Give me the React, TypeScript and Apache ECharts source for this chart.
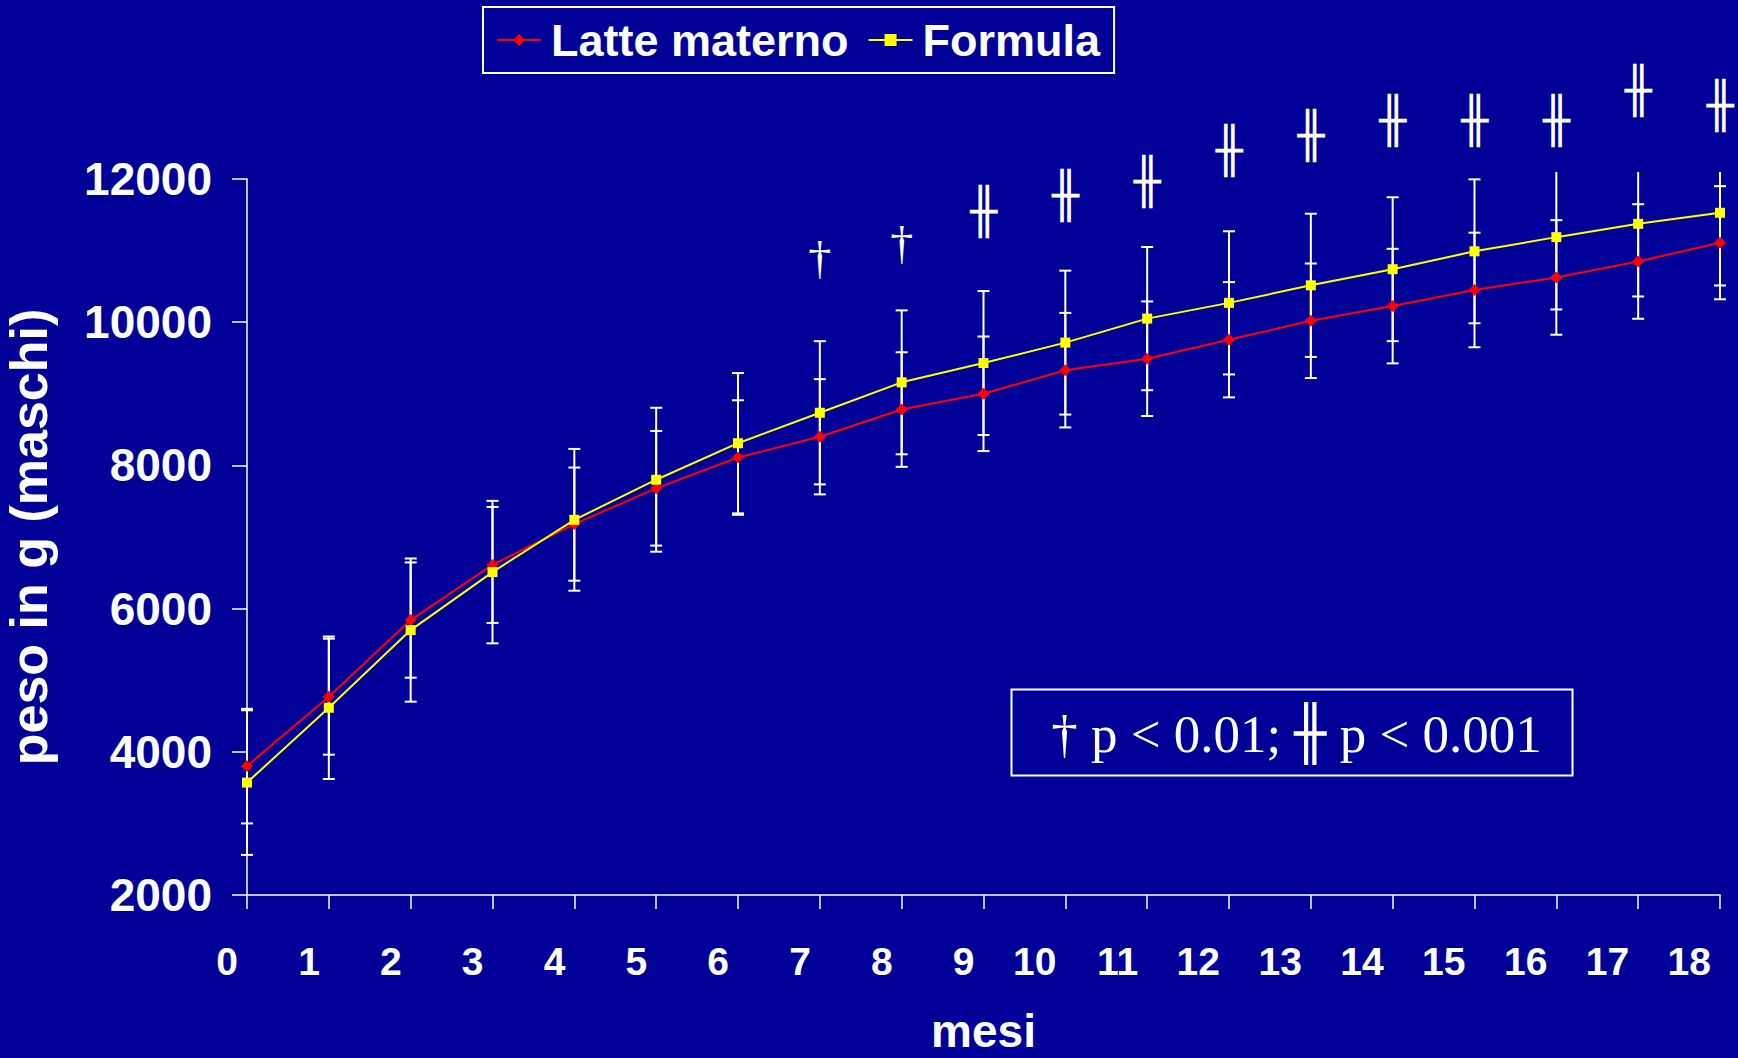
import React, { useEffect, useRef } from "react";
import * as echarts from "echarts";

// Monthly weight (g) of boys, mean and SD, by feeding type
const months = [0, 1, 2, 3, 4, 5, 6, 7, 8, 9, 10, 11, 12, 13, 14, 15, 16, 17, 18];
const latteMaterno = [3800, 4770, 5840, 6610, 7180, 7680, 8110, 8400, 8780, 9000, 9330, 9490, 9755, 10020, 10225, 10450, 10625, 10848, 11110];
const latteMaternoSd = [800, 810, 805, 810, 790, 800, 800, 805, 800, 800, 800, 800, 805, 800, 800, 800, 800, 800, 790];
const formula = [3570, 4615, 5700, 6510, 7240, 7800, 8310, 8735, 9160, 9430, 9715, 10050, 10270, 10515, 10740, 10990, 11188, 11374, 11528];
const formulaSd = [1010, 995, 1000, 995, 990, 1005, 980, 1000, 1005, 1005, 1005, 1000, 1000, 1000, 1005, 1005, 1010, 1015, 1015];

// Significance markers above each month
const sigMonths = [7, 8, 9, 10, 11, 12, 13, 14, 15, 16, 17, 18];
const sigLevels = [10885, 11095, 11545, 11770, 11965, 12395, 12605, 12815, 12815, 12815, 13235, 13025];
const sigMarks = ["†", "†", "╫", "╫", "╫", "╫", "╫", "╫", "╫", "╫", "╫", "╫"];

const seriesNames = ["Latte materno", "Formula"];
const yMin = 2000;
const yMax = 12000;
const yStep = 2000;
const footnote = "{d|†} p < 0.01; {b|╫} p < 0.001";

const BG = "#000099";
const WHITE = "#ffffff";
const SANS = "'Liberation Sans', Arial, sans-serif";
const SERIF = "'Liberation Serif', 'Times New Roman', serif";
const BOX = "'DejaVu Sans', sans-serif";

const errorBarItem = (params: any, api: any) => {
  const x = api.value(0);
  const m = api.value(1);
  const sd = api.value(2);
  const top = api.coord([x, m + sd]);
  const bot = api.coord([x, m - sd]);
  const limit = params.coordSys.y - 7;
  const clipped = top[1] < limit;
  const yTop = clipped ? limit : top[1];
  const half = 6;
  const style = { stroke: WHITE, lineWidth: 2 };
  const children: any[] = [
    { type: "line", shape: { x1: top[0], y1: yTop, x2: bot[0], y2: bot[1] }, style },
    { type: "line", shape: { x1: bot[0] - half, y1: bot[1], x2: bot[0] + half, y2: bot[1] }, style },
  ];
  if (!clipped) {
    children.push({ type: "line", shape: { x1: top[0] - half, y1: top[1], x2: top[0] + half, y2: top[1] }, style });
  }
  return { type: "group", children };
};

const sigItem = (params: any, api: any) => {
  const p = api.coord([api.value(0), api.value(1)]);
  const mark = sigMarks[params.dataIndex];
  const isDagger = mark === "†";
  return {
    type: "text",
    x: p[0],
    y: p[1],
    style: {
      text: mark,
      fill: WHITE,
      fontSize: isDagger ? 46 : 45,
      fontFamily: isDagger ? SERIF : BOX,
      align: "center",
      verticalAlign: "middle",
    },
  };
};

export default function App() {
  const ref = useRef<HTMLDivElement>(null);

  useEffect(() => {
    if (!ref.current) return;
    const chart = echarts.init(ref.current, undefined, { renderer: "svg" });

    const option: any = {
      animation: false,
      backgroundColor: BG,
      grid: {
        left: 247,
        right: 18,
        top: 179,
        bottom: 163,
        containLabel: false,
        outerBoundsMode: "none",
      },
      legend: {
        data: seriesNames,
        left: 483,
        top: 7,
        padding: [10, 14, 10, 13],
        borderColor: WHITE,
        borderWidth: 2,
        itemWidth: 44,
        itemHeight: 15,
        itemGap: 19,
        textStyle: {
          color: WHITE,
          fontSize: 45,
          fontWeight: "bold",
          fontFamily: SANS,
          lineHeight: 46,
          padding: [0, 0, 0, 5],
        },
      },
      xAxis: {
        type: "value",
        min: 0,
        max: 18,
        interval: 1,
        name: "mesi",
        nameLocation: "middle",
        nameGap: 116,
        nameTextStyle: { color: WHITE, fontSize: 46, fontWeight: "bold", fontFamily: SANS, lineHeight: 40 },
        axisLine: { show: true, lineStyle: { color: WHITE, width: 1.5 } },
        axisTick: { show: true, inside: false, length: 14, lineStyle: { color: WHITE, width: 1.5 } },
        axisLabel: {
          color: WHITE,
          fontSize: 39,
          fontWeight: "bold",
          fontFamily: SANS,
          align: "right",
          padding: [0, 9, 0, 0],
          margin: 47,
          formatter: (v: number) => String(v),
        },
        splitLine: { show: false },
      },
      yAxis: {
        type: "value",
        min: yMin,
        max: yMax,
        interval: yStep,
        name: "peso in g (maschi)",
        nameLocation: "middle",
        nameRotate: 90,
        nameGap: 192,
        nameTextStyle: { color: WHITE, fontSize: 52, fontWeight: "bold", fontFamily: SANS },
        axisLine: { show: true, lineStyle: { color: WHITE, width: 1.5 } },
        axisTick: { show: true, inside: false, length: 15, lineStyle: { color: WHITE, width: 1.5 } },
        axisLabel: {
          color: WHITE,
          fontSize: 46,
          fontWeight: "bold",
          fontFamily: SANS,
          margin: 35,
          formatter: (v: number) => String(v),
        },
        splitLine: { show: false },
      },
      series: [
        {
          name: "err-latte",
          type: "custom",
          renderItem: errorBarItem,
          encode: { x: 0, y: 1 },
          data: months.map((m, i) => [m, latteMaterno[i], latteMaternoSd[i]]),
          clip: false,
          z: 1,
        },
        {
          name: "err-formula",
          type: "custom",
          renderItem: errorBarItem,
          encode: { x: 0, y: 1 },
          data: months.map((m, i) => [m, formula[i], formulaSd[i]]),
          clip: false,
          z: 1,
        },
        {
          name: seriesNames[0],
          type: "line",
          data: months.map((m, i) => [m, latteMaterno[i]]),
          symbol: "diamond",
          symbolSize: [12, 12],
          lineStyle: { color: "#ff0000", width: 2 },
          itemStyle: { color: "#ff0000" },
          z: 3,
        },
        {
          name: seriesNames[1],
          type: "line",
          data: months.map((m, i) => [m, formula[i]]),
          symbol: "rect",
          symbolSize: [10, 10],
          lineStyle: { color: "#ffff00", width: 2 },
          itemStyle: { color: "#ffff00" },
          z: 4,
        },
        {
          name: "sig",
          type: "custom",
          renderItem: sigItem,
          encode: { x: 0, y: 1 },
          data: sigMonths.map((m, i) => [m, sigLevels[i]]),
          clip: false,
          z: 5,
        },
      ],
      graphic: [
        {
          type: "group",
          left: 1009,
          top: 687,
          children: [
            {
              type: "rect",
              shape: { x: 0, y: 0, width: 561, height: 86 },
              style: { fill: "none", stroke: WHITE, lineWidth: 2 },
            },
            {
              type: "text",
              x: 285,
              y: 44,
              style: {
                text: footnote,
                fill: WHITE,
                fontSize: 53,
                fontFamily: SERIF,
                align: "center",
                verticalAlign: "middle",
                rich: {
                  d: { fontSize: 53, fontFamily: SERIF, fill: WHITE },
                  b: { fontSize: 53, fontFamily: BOX, fill: WHITE },
                },
              },
            },
          ],
        },
      ],
    };

    chart.setOption(option);
    return () => chart.dispose();
  }, []);

  return (
    <div
      ref={ref}
      style={{ position: "absolute", left: 0, top: 0, width: 1738, height: 1058 }}
    />
  );
}
